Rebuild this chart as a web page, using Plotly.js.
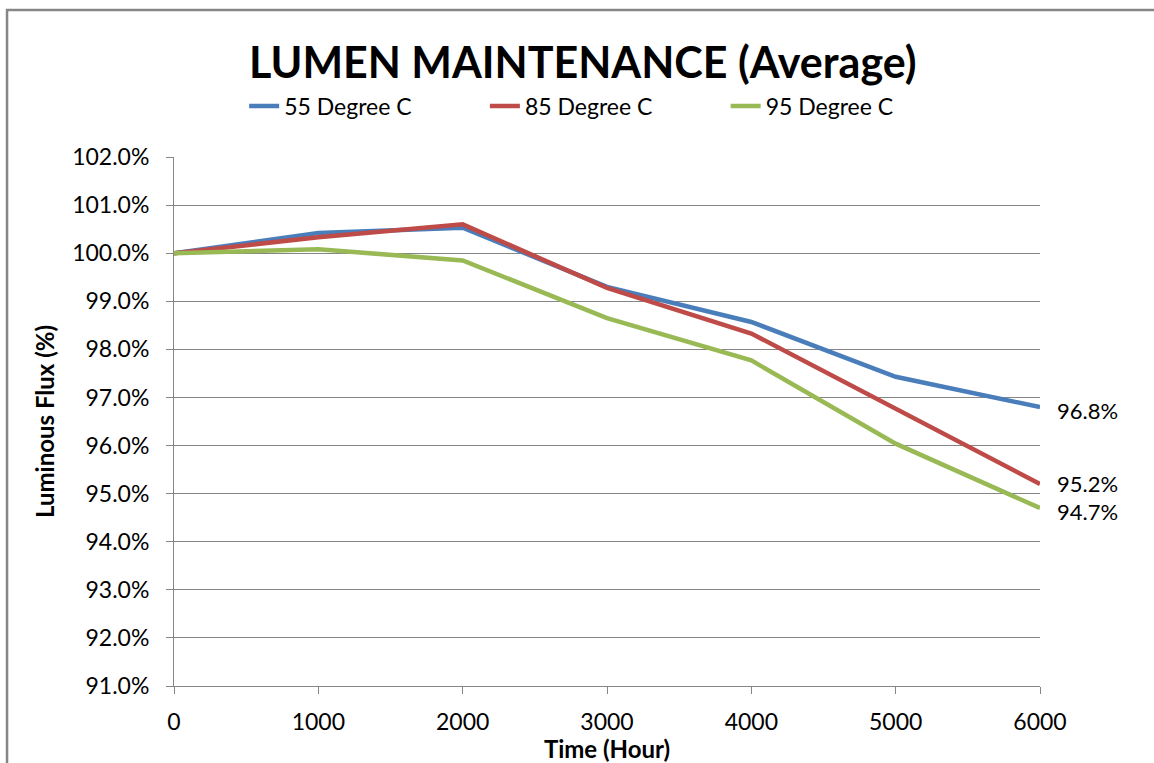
<!DOCTYPE html>
<html>
<head>
<meta charset="utf-8">
<script src="https://cdn.plot.ly/plotly-3.0.1.min.js"></script>
<style>html,body{margin:0;padding:0;background:#fff;}#chart{width:1154px;height:763px;}</style>
</head>
<body>
<div id="chart"></div>
<script>
const hours = [0, 1000, 2000, 3000, 4000, 5000, 6000];
const deg55 = [100.0, 100.42, 100.53, 99.30, 98.57, 97.43, 96.8];
const deg85 = [100.0, 100.33, 100.60, 99.28, 98.33, 96.77, 95.2];
const deg95 = [100.0, 100.08, 99.85, 98.65, 97.77, 96.04, 94.7];
const seriesNames = ["55 Degree C", "85 Degree C", "95 Degree C"];
const yTicks = [91, 92, 93, 94, 95, 96, 97, 98, 99, 100, 101, 102];

const colors = ["#4a7ebb", "#be4b48", "#98b954"];
const font = "Lato, Open Sans, sans-serif";
const all = [deg55, deg85, deg95];
const legendIds = ["legend", "legend2", "legend3"];
const legendX = [0.081, 0.359, 0.637];

const traces = all.map((ys, i) => ({
  x: hours, y: ys, name: seriesNames[i], type: "scatter", mode: "lines",
  line: {color: colors[i], width: 4.5}, legend: legendIds[i]
}));

const annotations = all.map((ys, i) => ({
  x: hours[hours.length - 1], y: ys[ys.length - 1], xref: "x", yref: "y",
  text: ys[ys.length - 1].toFixed(1) + "%", showarrow: false, borderpad: 0,
  xanchor: "left", xshift: 16, yshift: [-3, 1, -3][i],
  font: {family: font, size: 22, color: "#000"}
}));

const legendBase = {orientation: "h", y: 1.0964, yanchor: "middle", bgcolor: "rgba(0,0,0,0)",
  font: {family: font, size: 23, color: "#000"}, itemwidth: 30};

const layout = {
  width: 1154, height: 763,
  margin: {l: 174, r: 114, t: 157, b: 77},
  paper_bgcolor: "#fff", plot_bgcolor: "#fff",
  title: {text: "<b>LUMEN MAINTENANCE (Average)</b>", x: 0.505, xanchor: "center", y: 0.918, yanchor: "middle",
          font: {family: font, size: 43, color: "#000"}},
  showlegend: true,
  legend: Object.assign({x: legendX[0]}, legendBase),
  legend2: Object.assign({x: legendX[1]}, legendBase),
  legend3: Object.assign({x: legendX[2]}, legendBase),
  xaxis: {
    range: [0, 6000], tickvals: hours, ticktext: hours.map(String),
    showgrid: false, zeroline: false, showline: true, linecolor: "#868686", linewidth: 1,
    ticks: "outside", ticklen: 7, tickcolor: "#868686", ticklabelstandoff: 8,
    tickfont: {family: font, size: 23, color: "#000"},
    title: {text: "<b>Time (Hour)</b>", font: {family: font, size: 24, color: "#000"}, standoff: 0}
  },
  yaxis: {
    range: [91, 102], tickvals: yTicks, ticktext: yTicks.map(v => v.toFixed(1) + "%"),
    showgrid: true, gridcolor: "#868686", gridwidth: 1, zeroline: false,
    showline: true, linecolor: "#868686", linewidth: 1,
    ticks: "outside", ticklen: 7, tickcolor: "#868686", ticklabelstandoff: 12,
    tickfont: {family: font, size: 23, color: "#000"},
    title: {text: "<b>Luminous Flux (%)</b>", font: {family: font, size: 24, color: "#000"}, standoff: 10}
  },
  annotations: annotations,
  shapes: [{type: "rect", xref: "paper", yref: "paper", x0: -0.1928, x1: 1.3, y0: -0.3, y1: 1.278,
            line: {color: "#868686", width: 2.5}}]
};

Plotly.newPlot("chart", traces, layout, {displayModeBar: false});
</script>
</body>
</html>
